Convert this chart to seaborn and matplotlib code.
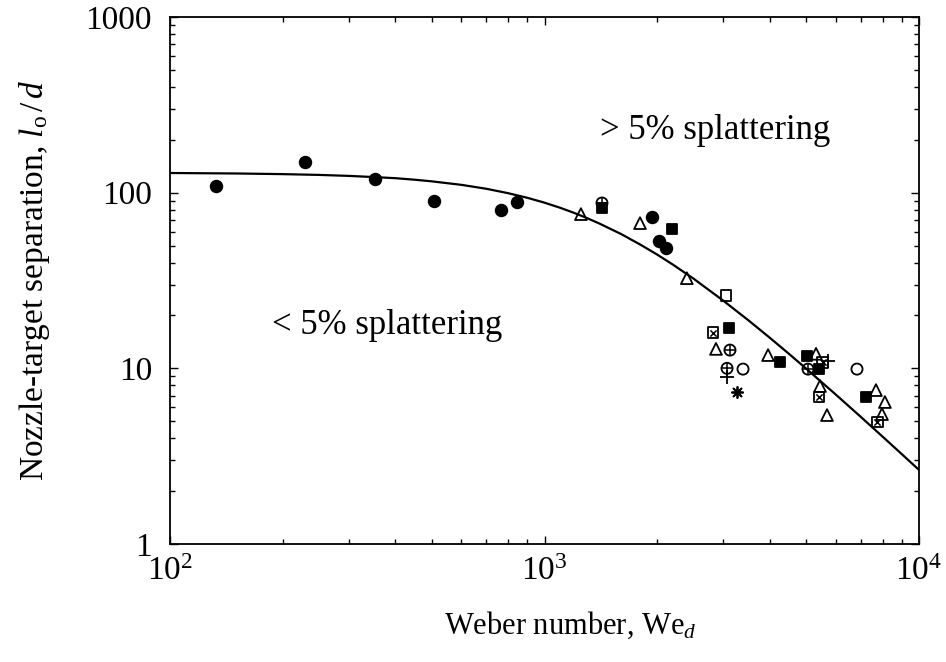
import matplotlib
matplotlib.use("Agg")
import matplotlib.pyplot as plt
import seaborn as sns
import pandas as pd
from matplotlib.ticker import FixedLocator, FixedFormatter, LogLocator, NullFormatter

# ---- data: Weber number We_d vs. nozzle-target separation l_o/d ----
# filled circles
circ_we = [133, 229, 352, 507, 765, 845, 1936, 2021, 2110]
circ_ld = [109, 149, 119.5, 89.6, 79.6, 88.4, 72.6, 53.0, 48.4]
# open triangles
tri_we = [1251, 1799, 2399, 2870, 3953, 5309, 5440, 5680, 7674, 8109, 7965]
tri_ld = [75.5, 67.1, 32.6, 12.9, 11.9, 12.1, 7.93, 5.42, 7.52, 6.43, 5.49]
# filled squares
sqf_we = [1424, 2190, 3109, 4254, 5024, 5408, 7214]
sqf_ld = [81.7, 62.1, 16.9, 10.86, 11.75, 9.9, 6.87]
# open squares
sqo_we = [3052]
sqo_ld = [26.1]
# crossed squares
sqx_we = [2818, 5540, 5408, 7727]
sqx_ld = [15.9, 10.86, 6.87, 4.95]
# crossed circles
cx_we = [1424, 3128, 3072, 5053]
cx_ld = [87.3, 12.7, 10.0, 9.9]
# open circles
co_we = [3389, 6830]
co_ld = [9.9, 9.9]
# plus signs
pl_we = [3072, 5714]
pl_ld = [8.9, 11.0]
# asterisk
ast_we = [3266]
ast_ld = [7.33]

# splattering boundary curve
curve_we = [100, 150, 200, 250, 300, 350, 400, 450, 500, 600, 700, 800, 900,
            1000, 1100, 1200, 1300, 1400, 1600, 1800, 2000, 2200, 2500, 3000,
            3500, 4000, 4500, 5000, 6000, 7000, 8000, 9000, 10000]
curve_ld = [129.4, 128.6, 127.5, 126.2, 124.6, 122.7, 120.9, 118.5, 116.0,
            110.8, 105.2, 99.3, 93.5, 87.7, 82.1, 76.7, 71.6, 66.8, 58.2, 50.7,
            44.4, 39.0, 32.4, 24.3, 18.8, 14.9, 12.07, 9.95, 7.08, 5.28, 4.08,
            3.245, 2.64]

x_ticks = [100, 1000, 10000]
x_tick_labels = ["$10^{2}$", "$10^{3}$", "$10^{4}$"]
y_ticks = [1, 10, 100, 1000]
y_tick_labels = ["1", "10", "100", "1000"]

# ---- style ----
sns.set_theme(style="ticks")
plt.rcParams.update({
    "font.family": ["Liberation Serif", "DejaVu Serif"],
    "mathtext.fontset": "custom",
    "mathtext.rm": "Liberation Serif",
    "mathtext.it": "Liberation Serif:italic",
    "mathtext.bf": "Liberation Serif:bold",
    "axes.edgecolor": "black",
    "axes.linewidth": 1.3,
    "xtick.color": "black",
    "ytick.color": "black",
    "text.color": "black",
    "axes.labelcolor": "black",
})

fig = plt.figure(figsize=(9.46, 6.62), dpi=100)
ax = fig.add_axes([170 / 946, 1 - 544 / 662, 749 / 946, 527 / 662])
ax.set_xscale("log")
ax.set_yscale("log")

curve = pd.DataFrame({"We": curve_we, "ld": curve_ld})
sns.lineplot(data=curve, x="We", y="ld", ax=ax, color="black", lw=1.6,
             sort=False, estimator=None)


def pts(xs, ys, marker, size, face, lw=1.3):
    df = pd.DataFrame({"We": xs, "ld": ys})
    sns.scatterplot(data=df, x="We", y="ld", ax=ax, marker=marker, s=size,
                    facecolor=face, edgecolor="black", linewidth=lw,
                    color="black", zorder=3)


pts(circ_we, circ_ld, "o", 70, "black")
pts(tri_we, tri_ld, "^", 72, "none")
pts(sqf_we, sqf_ld, "s", 58, "black")
pts(sqo_we, sqo_ld, "s", 62, "none")
pts(sqx_we, sqx_ld, "s", 62, "none")
pts(sqx_we, sqx_ld, "x", 20, "black", lw=1.1)
pts(cx_we, cx_ld, "o", 64, "none")
pts(cx_we, cx_ld, "+", 64, "black", lw=1.1)
pts(co_we, co_ld, "o", 64, "none")
pts(pl_we, pl_ld, "+", 100, "black", lw=1.3)
pts(ast_we, ast_ld, (8, 2, 0), 64, "black", lw=1.3)

ax.set_xlim(100, 10000)
ax.set_ylim(1, 1000)

ax.xaxis.set_major_locator(FixedLocator(x_ticks))
ax.xaxis.set_major_formatter(FixedFormatter(x_tick_labels))
ax.yaxis.set_major_locator(FixedLocator(y_ticks))
ax.yaxis.set_major_formatter(FixedFormatter(y_tick_labels))
for axis in (ax.xaxis, ax.yaxis):
    axis.set_minor_locator(LogLocator(base=10, subs=range(2, 10), numticks=20))
    axis.set_minor_formatter(NullFormatter())

ax.tick_params(which="both", direction="in", top=True, right=True,
               color="black", width=1.0)
ax.tick_params(which="major", length=6, labelsize=24)
ax.tick_params(which="minor", length=3.5)
ax.tick_params(axis="y", which="major", pad=13)
ax.tick_params(axis="x", which="major", pad=9)

ax.set_xlabel("Weber number, We$_{d}$", fontsize=22)
ax.set_ylabel("Nozzle-target separation, $l_{\\rm o}\\,/\\,d$", fontsize=24)
ax.xaxis.set_label_coords(0.535, -0.125)
ax.yaxis.set_label_coords(-0.158, 0.5)

ax.text(1406, 227, "> 5% splattering", fontsize=25, ha="left", va="center")
ax.text(187, 17.6, "< 5% splattering", fontsize=25, ha="left", va="center")

fig.savefig("out.png", dpi=100)
